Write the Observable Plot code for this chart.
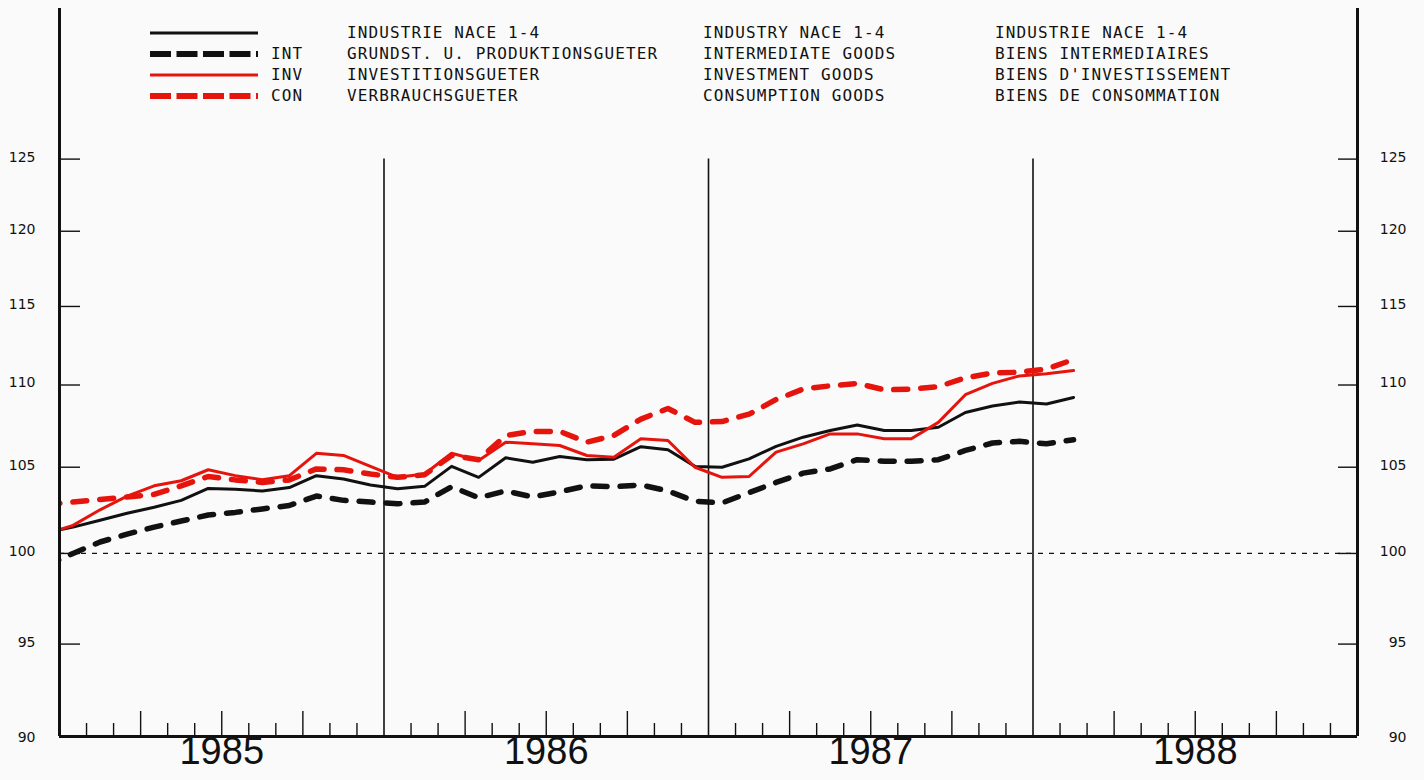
<!DOCTYPE html>
<html>
<head>
<meta charset="utf-8">
<script src="https://cdn.jsdelivr.net/npm/d3@7"></script>
<script src="https://cdn.jsdelivr.net/npm/@observablehq/plot@0.6"></script>
<style>
  html, body { margin: 0; padding: 0; background: #fafafa; }
  #wrap { position: relative; width: 1424px; height: 780px; overflow: hidden; }
  #chart { position: absolute; left: 0; top: 0; }
  .lg { position: absolute; font-family: "DejaVu Sans Mono", monospace; font-size: 16px;
        letter-spacing: 1.1px; line-height: 20px; color: #111; white-space: nowrap; }
  #samples { position: absolute; left: 0; top: 0; }
</style>
</head>
<body>
<div id="wrap">
  <div id="chart"></div>
  <svg id="samples" width="320" height="120"></svg>
</div>
<script>
// ---- data: monthly indices, Dec 1984 .. Feb 1988 ----
const startYear = 1984;
const startMonth = 12; // first value = Dec 1984

const industry = [101.2, 101.5, 101.9, 102.3, 102.65, 103.05, 103.75, 103.7, 103.6, 103.8, 104.5, 104.3, 103.95,
  103.73, 103.87, 105.05, 104.4, 105.56, 105.3, 105.64, 105.44, 105.48, 106.23, 106.04, 105.05,
  105.0, 105.5, 106.25, 106.8, 107.2, 107.54, 107.2, 107.2, 107.4, 108.3, 108.7, 108.95,
  108.82, 109.23];
const intermediate = [99.3, 100.0, 100.65, 101.1, 101.5, 101.85, 102.2, 102.35, 102.55, 102.75, 103.3, 103.05, 102.95,
  102.85, 102.95, 103.85, 103.2, 103.6, 103.25, 103.55, 103.9, 103.85, 103.95, 103.6, 103.0,
  102.9, 103.5, 104.1, 104.65, 104.9, 105.45, 105.35, 105.35, 105.45, 106.0, 106.45, 106.55,
  106.4, 106.65];
const investment = [101.1, 101.6, 102.5, 103.3, 103.9, 104.2, 104.85, 104.5, 104.26, 104.5, 105.83, 105.7, 105.05,
  104.4, 104.6, 105.83, 105.4, 106.5, 106.4, 106.3, 105.7, 105.6, 106.7, 106.6, 105.0,
  104.4, 104.45, 105.9, 106.4, 107.0, 107.0, 106.7, 106.7, 107.7, 109.4, 110.1, 110.57,
  110.7, 110.9];
const consumption = [102.8, 102.95, 103.1, 103.25, 103.4, 103.9, 104.45, 104.25, 104.1, 104.25, 104.9, 104.85, 104.6,
  104.4, 104.55, 105.7, 105.45, 106.9, 107.15, 107.15, 106.5, 106.9, 107.9, 108.55, 107.7,
  107.75, 108.2, 109.1, 109.75, 109.95, 110.1, 109.7, 109.75, 109.9, 110.45, 110.75, 110.8,
  111.0, 111.6];

const years = [1985, 1986, 1987, 1988];
const yTicks = [90, 95, 100, 105, 110, 115, 120, 125];
const yInnerTicks = [95, 100, 105, 110, 115, 120, 125];
const yDomain = [90.16, 136.12];

const legendCodes = ["", "INT", "INV", "CON"];
const legendDE = ["INDUSTRIE NACE 1-4", "GRUNDST. U. PRODUKTIONSGUETER", "INVESTITIONSGUETER", "VERBRAUCHSGUETER"];
const legendEN = ["INDUSTRY NACE 1-4", "INTERMEDIATE GOODS", "INVESTMENT GOODS", "CONSUMPTION GOODS"];
const legendFR = ["INDUSTRIE NACE 1-4", "BIENS INTERMEDIAIRES", "BIENS D'INVESTISSEMENT", "BIENS DE CONSOMMATION"];

// ---- build tables ----
const toX = i => startYear + (startMonth - 1 + i + 0.5) / 12;
const series = (vals) => vals.map((v, i) => ({x: toX(i), y: v}));

const quarterTicks = d3.range(0, 4).flatMap(y => [3, 6, 9].map(m => 1985 + y + m / 12));
const shortOnly = d3.range(0, 4).flatMap(y => [1, 2, 4, 5, 7, 8, 10, 11].map(m => 1985 + y + m / 12));

const W = 1424, H = 780, mL = 59, mR = 67, mT = 8, mB = 44;
const fw = W - mL - mR, fh = H - mT - mB;

const red = "#e5150d";
const black = "#111111";

const chart = Plot.plot({
  width: W, height: H,
  marginLeft: mL, marginRight: mR, marginTop: mT, marginBottom: mB,
  style: {background: "transparent", overflow: "visible"},
  x: {domain: [1985, 1989], axis: null},
  y: {type: "log", domain: yDomain, axis: null},
  marks: [
    Plot.ruleY([100], {stroke: black, strokeWidth: 1.2, strokeDasharray: "5,6"}),
    Plot.ruleX(years.slice(1), {y1: yDomain[0], y2: 125, stroke: black, strokeWidth: 1.6}),
    Plot.ruleX(shortOnly, {insetTop: fh - 13, stroke: black, strokeWidth: 1.4}),
    Plot.ruleX(quarterTicks, {insetTop: fh - 25, stroke: black, strokeWidth: 1.4}),
    Plot.ruleY(yInnerTicks, {insetRight: fw - 21, stroke: black, strokeWidth: 1.4}),
    Plot.ruleY(yInnerTicks, {insetLeft: fw - 19, stroke: black, strokeWidth: 1.4}),
    Plot.text(yTicks, {y: d => d, text: d => String(d), frameAnchor: "left", dx: -24, dy: -2,
      textAnchor: "end", fontSize: 14, fontFamily: "DejaVu Sans", fill: black}),
    Plot.text(yTicks, {y: d => d, text: d => String(d), frameAnchor: "right", dx: 49, dy: -2,
      textAnchor: "end", fontSize: 14, fontFamily: "DejaVu Sans", fill: black}),
    Plot.text(years, {x: d => d + 0.5, text: d => String(d), frameAnchor: "bottom", dy: 27,
      fontSize: 38, fontFamily: "Liberation Sans", fill: black}),
    Plot.line(series(intermediate), {x: "x", y: "y", stroke: black, strokeWidth: 5.5,
      strokeDasharray: "14,13", clip: true}),
    Plot.line(series(consumption), {x: "x", y: "y", stroke: red, strokeWidth: 5.5,
      strokeDasharray: "14,13", clip: true}),
    Plot.line(series(industry), {x: "x", y: "y", stroke: black, strokeWidth: 3, strokeLinejoin: "round", clip: true}),
    Plot.line(series(investment), {x: "x", y: "y", stroke: red, strokeWidth: 3, strokeLinejoin: "round", clip: true}),
    Plot.ruleX([1985, 1989], {stroke: black, strokeWidth: 3}),
    Plot.ruleY([yDomain[0]], {stroke: black, strokeWidth: 3})
  ]
});
document.getElementById("chart").appendChild(chart);

// ---- legend overlay ----
const wrap = document.getElementById("wrap");
const rowY = [33, 54, 75, 96];
const cols = [[legendCodes, 271], [legendDE, 347], [legendEN, 703], [legendFR, 995]];
cols.forEach(([texts, x]) => {
  texts.forEach((t, r) => {
    const d = document.createElement("div");
    d.className = "lg";
    d.textContent = t;
    d.style.left = x + "px";
    d.style.top = (rowY[r] - 10) + "px";
    wrap.appendChild(d);
  });
});
const svg = d3.select("#samples");
const styles = [
  {stroke: black, w: 3, dash: null},
  {stroke: black, w: 6, dash: "21,5.5"},
  {stroke: red, w: 3, dash: null},
  {stroke: red, w: 6, dash: "21,5.5"}
];
styles.forEach((s, r) => {
  svg.append("line").attr("x1", 150).attr("x2", 258).attr("y1", rowY[r]).attr("y2", rowY[r])
    .attr("stroke", s.stroke).attr("stroke-width", s.w).attr("stroke-dasharray", s.dash);
});
</script>
</body>
</html>
